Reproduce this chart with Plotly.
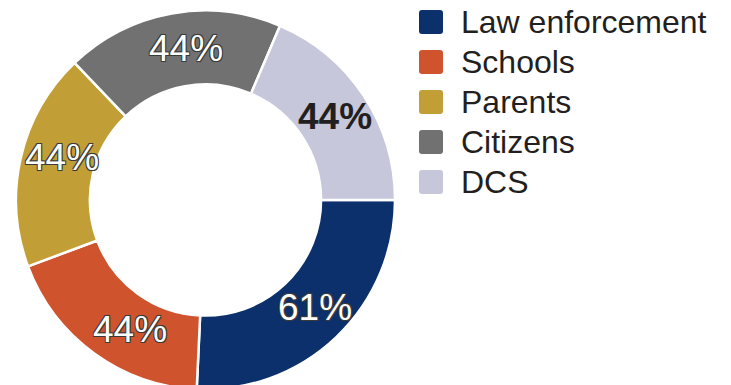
import math
import plotly.graph_objects as go

# Share of respondents naming each source
categories = ["Law enforcement", "Schools", "Parents", "Citizens", "DCS"]
percents = [61, 44, 44, 44, 44]
colors = ["#0b306b", "#cf532d", "#c29f36", "#717171", "#c6c7db"]

# value-label styling per slice
label_colors = ["#ffffff", "#ffffff", "#ffffff", "#ffffff", "#231f20"]
label_weights = [400, 400, 400, 400, 700]
label_outlined = [True, True, True, True, False]
# small pixel nudges of each value label away from the slice mid-point
label_nudge = [(4, -3), (14, 6), (5, -8), (8, -1), (2, 1)]

W, H = 731, 392
FONT = "Liberation Sans, Arial, sans-serif"

# donut geometry in pixels (center, outer radius, hole fraction)
cx, cy, r = 205.5, 200.0, 189.5
hole = 0.61
rotation = 90

fig = go.Figure(
    go.Pie(
        labels=categories,
        values=percents,
        sort=False,
        direction="clockwise",
        rotation=rotation,
        hole=hole,
        marker=dict(colors=colors, line=dict(color="#ffffff", width=2.5)),
        textinfo="none",
        domain=dict(
            x=[(cx - r) / W, (cx + r) / W],
            y=[(H - (cy + r)) / H, (H - (cy - r)) / H],
        ),
        showlegend=False,
        hoverinfo="label+value",
    )
)

outline = "-1px -1px 0 #3a3a3a, 1px -1px 0 #3a3a3a, -1px 1px 0 #3a3a3a, 1px 1px 0 #3a3a3a"
annotations, shapes = [], []

# value labels at the middle of each ring segment
total = sum(percents)
ring_r = r * (1 + hole) / 2
cum = 0
for v, col, wt, outl, (nx, ny) in zip(
    percents, label_colors, label_weights, label_outlined, label_nudge
):
    theta = math.radians(rotation + 360 * (cum + v / 2) / total)
    cum += v
    px = cx + ring_r * math.sin(theta) + nx
    py = cy - ring_r * math.cos(theta) + ny
    annotations.append(
        dict(
            text=f"{v}%",
            x=px / W,
            y=1 - py / H,
            xref="paper",
            yref="paper",
            xanchor="center",
            yanchor="middle",
            showarrow=False,
            font=dict(
                family=FONT,
                size=37,
                color=col,
                weight=wt,
                shadow=outline if outl else "none",
            ),
        )
    )

# legend: rounded swatches and labels, one row per category
sq = 12
rad = 3
swatch = (
    f"M{-sq + rad},{-sq} L{sq - rad},{-sq} Q{sq},{-sq} {sq},{-sq + rad} "
    f"L{sq},{sq - rad} Q{sq},{sq} {sq - rad},{sq} L{-sq + rad},{sq} "
    f"Q{-sq},{sq} {-sq},{sq - rad} L{-sq},{-sq + rad} Q{-sq},{-sq} {-sq + rad},{-sq} Z"
)
leg_x, leg_text_x, leg_y0, leg_dy = 431, 459, 22, 40
for i, (name, col) in enumerate(zip(categories, colors)):
    yc = leg_y0 + i * leg_dy
    shapes.append(
        dict(
            type="path",
            xref="paper",
            yref="paper",
            xsizemode="pixel",
            ysizemode="pixel",
            xanchor=leg_x / W,
            yanchor=1 - yc / H,
            path=swatch,
            fillcolor=col,
            line=dict(width=0),
        )
    )
    annotations.append(
        dict(
            text=name,
            x=leg_text_x / W,
            y=1 - yc / H,
            xref="paper",
            yref="paper",
            xanchor="left",
            yanchor="middle",
            showarrow=False,
            font=dict(family=FONT, size=32, color="#231f20"),
        )
    )

fig.update_layout(
    width=W,
    height=H,
    margin=dict(l=0, r=0, t=0, b=0),
    paper_bgcolor="#ffffff",
    plot_bgcolor="#ffffff",
    shapes=shapes,
    annotations=annotations,
)

fig.write_html(
    "out.html",
    post_script="document.documentElement.style.overflow='hidden';document.body.style.overflow='hidden';",
)
